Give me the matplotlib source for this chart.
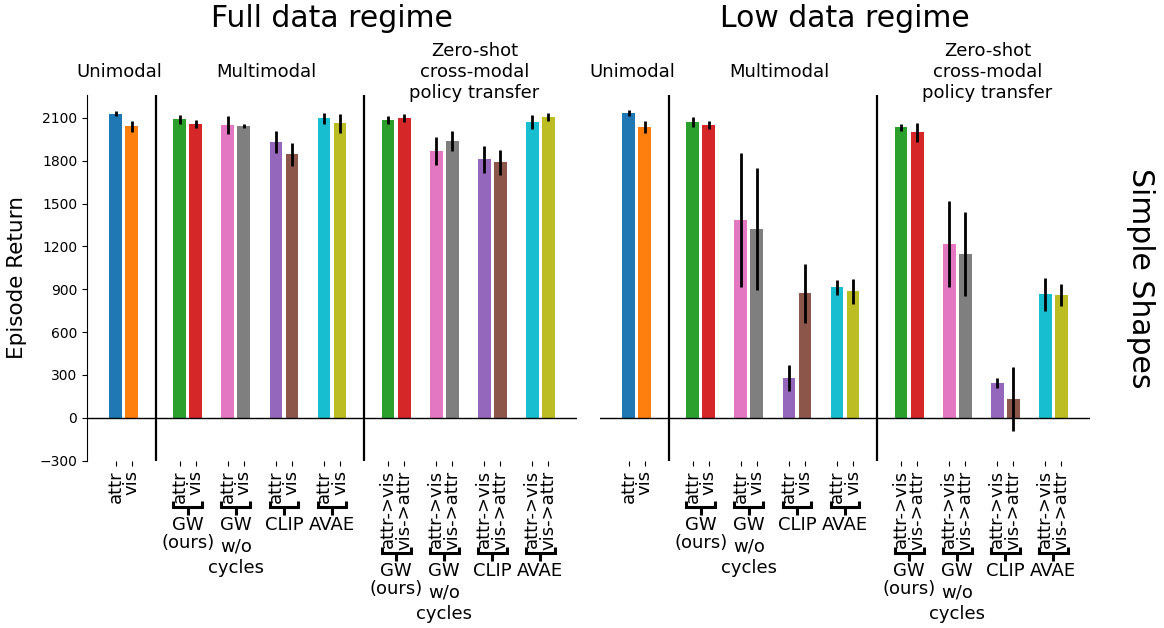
import matplotlib.pyplot as plt
from matplotlib import transforms

# tick labels under the bars
uni_ticks = ["attr", "vis"]
multi_ticks = ["attr", "vis"]
zs_ticks = ["attr->vis", "vis->attr"]
models = ["GW\n(ours)", "GW\nw/o\ncycles", "CLIP", "AVAE"]
group_titles = ["Unimodal", "Multimodal", "Zero-shot\ncross-modal\npolicy transfer"]
regimes = ["Full data regime", "Low data regime"]
yticks = [-300, 0, 300, 600, 900, 1200, 1500, 1800, 2100]

uni_colors = ["tab:blue", "tab:orange"]
pair_colors = ["tab:green", "tab:red", "tab:pink", "tab:gray",
               "tab:purple", "tab:brown", "tab:cyan", "tab:olive"]

# full data regime
full_uni = [2130, 2040]
full_uni_err = [17, 38]
full_multi = [2091, 2057, 2050, 2045, 1930, 1845, 2096, 2062]
full_multi_err = [31, 27, 64, 15, 78, 79, 37, 67]
full_zs = [2084, 2098, 1870, 1937, 1810, 1788, 2072, 2105]
full_zs_err = [30, 28, 98, 71, 93, 87, 49, 27]

# low data regime
low_uni = [2133, 2035]
low_uni_err = [21, 40]
low_multi = [2070, 2049, 1384, 1321, 278, 873, 915, 887]
low_multi_err = [34, 27, 467, 426, 90, 207, 52, 87]
low_zs = [2035, 2000, 1216, 1146, 243, 131, 866, 859]
low_zs_err = [25, 66, 301, 294, 38, 226, 116, 78]

W, H = 1164, 628
fig = plt.figure(figsize=(W / 100, H / 100), dpi=100)
ax_h = 365.6
ax_bottom = (H - 460.6) / H
ax_l = fig.add_axes([87 / W, ax_bottom, 490 / W, ax_h / H])
ax_r = fig.add_axes([600 / W, ax_bottom, 490 / W, ax_h / H], sharey=ax_l)


def px(d):
    # pixel distance below the axes bottom -> axes fraction
    return -d / ax_h


uni_pos = [0, 1]
multi_pos = [p for k in range(4) for p in (4 + 3 * k, 5 + 3 * k)]
zs_pos = [p for k in range(4) for p in (17 + 3 * k, 18 + 3 * k)]


def draw_panel(ax, uni, uni_err, multi, multi_err, zs, zs_err, regime):
    err_kw = dict(ecolor="black", elinewidth=2, capsize=0)
    ax.bar(uni_pos, uni, yerr=uni_err, width=0.8, color=uni_colors, error_kw=err_kw)
    ax.bar(multi_pos, multi, yerr=multi_err, width=0.8, color=pair_colors, error_kw=err_kw)
    ax.bar(zs_pos, zs, yerr=zs_err, width=0.8, color=pair_colors, error_kw=err_kw)

    ax.axhline(0, color="black", lw=1)
    for x in (2.5, 15.5):
        ax.axvline(x, color="black", lw=1.6)

    ax.set_ylim(-300, 2260)
    ax.set_xticks(uni_pos + multi_pos + zs_pos)
    ax.set_xticklabels(uni_ticks + multi_ticks * 4 + zs_ticks * 4,
                       rotation=90, fontsize=13)

    trans = transforms.blended_transform_factory(ax.transData, ax.transAxes)
    for pos, depth in ((multi_pos, 40), (zs_pos, 86)):
        for k, name in enumerate(models):
            a, b = pos[2 * k] - 0.4, pos[2 * k + 1] + 0.4
            c = (a + b) / 2
            ax.plot([a, a, b, b], [px(depth), px(depth + 6), px(depth + 6), px(depth)],
                    color="black", lw=2.2, transform=trans, clip_on=False,
                    solid_capstyle="butt", solid_joinstyle="miter")
            ax.plot([c, c], [px(depth + 6), px(depth + 14)], color="black", lw=2.2,
                    transform=trans, clip_on=False, solid_capstyle="butt")
            ax.text(c, px(depth + 15), name, transform=trans, ha="center", va="top",
                    fontsize=13, linespacing=1.25 if "w/o" in name else 1.0)

    for x, label in zip((0.25, 9.4, 22.4), group_titles):
        ax.text(x, 1.063, label, transform=trans, ha="center", va="center", fontsize=13)
    ax.text(0.5, 1.186, regime, transform=ax.transAxes, ha="center",
            va="baseline", fontsize=21.5)

    for side in ("top", "right", "bottom"):
        ax.spines[side].set_visible(False)


draw_panel(ax_l, full_uni, full_uni_err, full_multi, full_multi_err,
           full_zs, full_zs_err, regimes[0])
draw_panel(ax_r, low_uni, low_uni_err, low_multi, low_multi_err,
           low_zs, low_zs_err, regimes[1])

ax_l.set_yticks(yticks)
ax_l.set_ylabel("Episode Return", fontsize=15.5, labelpad=9)
ax_r.spines["left"].set_visible(False)
ax_r.tick_params(axis="y", left=False, labelleft=False)

fig.text(1141 / W, (H - 278) / H, "Simple Shapes", rotation=270,
         ha="center", va="center", fontsize=21.5)

fig.savefig("out.png", dpi=100)
